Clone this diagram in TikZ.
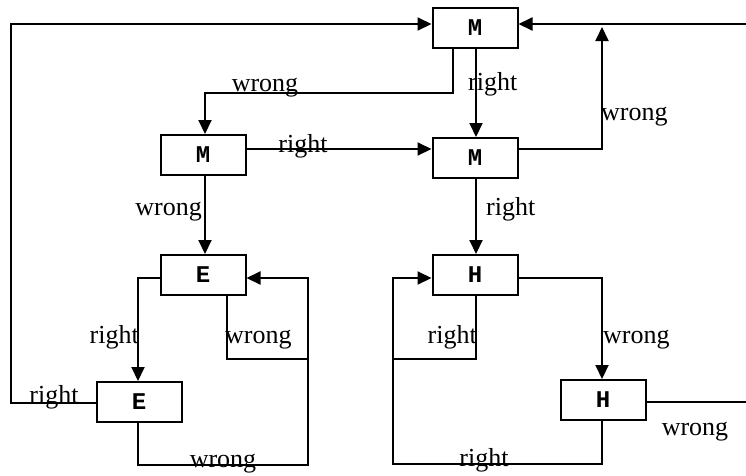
\documentclass[tikz,border=0pt]{standalone}
\usepackage{fontspec}
\setmainfont{Liberation Serif}
\newfontfamily\boxfont{Liberation Mono}
\usetikzlibrary{arrows.meta}
\tikzset{
  box/.style={draw, line width=2pt, minimum width=85pt, minimum height=40pt, inner sep=0pt,
    font=\boxfont\bfseries\fontsize{24}{24}\selectfont},
  conn/.style={line width=2pt},
  arr/.style={conn, -{Triangle[length=14pt,width=13pt]}},
  lab/.style={inner sep=0pt, font=\fontsize{26}{26}\selectfont}
}
\begin{document}
\begin{tikzpicture}[x=1pt,y=-1pt]
\useasboundingbox (0,0) rectangle (746,475);
% boxes
\node[box] (Mt) at (475,28) {M};
\node[box] (M1) at (203,155) {M};
\node[box] (M2) at (475,158) {M};
\node[box] (E1) at (203,275) {E};
\node[box] (E2) at (139,402) {E};
\node[box] (H1) at (475,275) {H};
\node[box] (H2) at (603,400) {H};
% helper coordinates
\coordinate (L) at (11,24);
\coordinate (R) at (746,24);
\coordinate (Wup) at (602,27);
\coordinate (Mw) at (205,93);
\coordinate (Eloop) at (308,465);
\coordinate (Ejoin) at (308,359);
\coordinate (Hloop) at (393,464);
\coordinate (Hjoin) at (393,359);
\coordinate (Hout) at (746,402);
% connectors
\draw[arr] (E2.west |- 0,403) -| (L) -- (Mt.west |- L);
\draw[arr] (R) -- (Mt.east |- R);
\draw[arr] (M2.east |- 0,149) -| (Wup);
\draw[arr] (Mt.south -| 453,0) |- (Mw) -- (M1.north -| Mw);
\draw[arr] (Mt.south -| 476,0) -- (M2.north -| 476,0);
\draw[arr] (M1.east |- 0,149) -- (M2.west |- 0,149);
\draw[arr] (M1.south -| 205,0) -- (E1.north -| 205,0);
\draw[arr] (M2.south -| 476,0) -- (H1.north -| 476,0);
\draw[arr] (E1.west |- 0,278) -| (E2.north -| 138,0);
\draw[conn] (E1.south -| 227,0) |- (Ejoin);
\draw[arr] (E2.south -| 138,0) |- (Eloop) |- (E1.east |- 0,278);
\draw[conn] (H1.south -| 476,0) |- (Hjoin);
\draw[arr] (H2.south -| 602,0) |- (Hloop) |- (H1.west |- 0,278);
\draw[arr] (H1.east |- 0,278) -| (H2.north -| 602,0);
\draw[conn] (H2.east |- Hout) -- (Hout);
% labels
\node[lab, anchor=base] (l1) at (54,403) {right};
\node[lab, anchor=base] (l2) at (265,91) {wrong};
\node[lab, anchor=base west] (l3) at (468,90) {right};
\node[lab, anchor=base west] (l4) at (601,120) {wrong};
\node[lab, anchor=base] (l5) at (303,152) {right};
\node[lab, anchor=base east] (l6) at (202,215) {wrong};
\node[lab, anchor=base west] (l7) at (486,215) {right};
\node[lab, anchor=base east] (l8) at (139,343) {right};
\node[lab, anchor=base west] (l9) at (225,343) {wrong};
\node[lab, anchor=base] (l10) at (223,467) {wrong};
\node[lab, anchor=base east] (l11) at (477,343) {right};
\node[lab, anchor=base west] (l12) at (603,343) {wrong};
\node[lab, anchor=base] (l13) at (484,466) {right};
\node[lab, anchor=base] (l14) at (695,435) {wrong};
\end{tikzpicture}
\end{document}
